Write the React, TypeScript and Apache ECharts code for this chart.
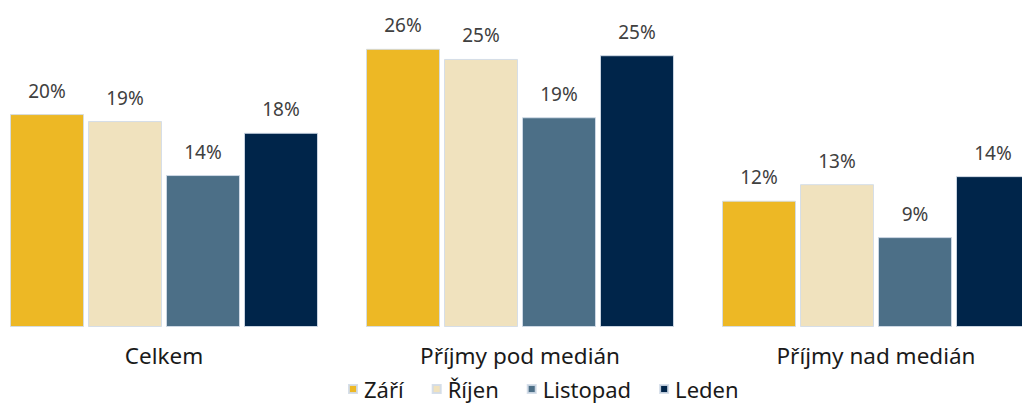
import React, { useEffect, useRef } from "react";
import * as echarts from "echarts";

const categories = ["Celkem", "Příjmy pod medián", "Příjmy nad medián"];
const seriesNames = ["Září", "Říjen", "Listopad", "Leden"];
const colors = ["#EDB825", "#F0E2BE", "#4C6F87", "#00254A"];
// bar values (percent)
const zari = [19.9, 26.0, 11.8];
const rijen = [19.25, 25.05, 13.35];
const listopad = [14.2, 19.6, 8.4];
const leden = [18.15, 25.4, 14.1];
// displayed labels (percent)
const zariLabels = [20, 26, 12];
const rijenLabels = [19, 25, 13];
const listopadLabels = [14, 19, 9];
const ledenLabels = [18, 25, 14];

const values = [zari, rijen, listopad, leden];
const labels = [zariLabels, rijenLabels, listopadLabels, ledenLabels];

export default function App() {
  const ref = useRef<HTMLDivElement>(null);
  useEffect(() => {
    if (!ref.current) return;
    const chart = echarts.init(ref.current, undefined, { renderer: "svg" });
    const font = "'Noto Sans', sans-serif";
    chart.setOption({
      animation: false,
      textStyle: { fontFamily: font },
      legend: {
        data: seriesNames,
        top: 373,
        left: 357,
        icon: "rect",
        itemWidth: 8,
        itemHeight: 8,
        itemGap: 28,
        textStyle: { fontSize: 22, color: "#1a1a1a", fontFamily: font, padding: [0, 0, 0, 2] },
      },
      grid: { left: 0, right: 0, top: 6, bottom: 76, containLabel: false },
      xAxis: {
        type: "category",
        data: categories,
        axisLine: { show: false },
        axisTick: { show: false },
        axisLabel: { fontSize: 22.5, color: "#1a1a1a", margin: 17, fontFamily: font },
      },
      yAxis: {
        type: "value",
        min: 0,
        max: 30,
        show: false,
        splitLine: { show: false },
      },
      series: seriesNames.map((name, i) => ({
        name,
        type: "bar",
        data: values[i],
        barWidth: 74,
        barGap: "5.4%",
        itemStyle: {
          color: colors[i],
          borderColor: "rgba(210,220,232,0.9)",
          borderWidth: 1,
        },
        label: {
          show: true,
          position: "top",
          distance: 14,
          fontSize: 19,
          color: "#404040",
          fontFamily: font,
          formatter: (p: any) => labels[i][p.dataIndex] + "%",
        },
      })),
    });
    return () => chart.dispose();
  }, []);
  return (
    <div
      ref={ref}
      style={{ position: "fixed", left: -14, top: 0, width: 1068, height: 403, background: "#fff" }}
    />
  );
}
